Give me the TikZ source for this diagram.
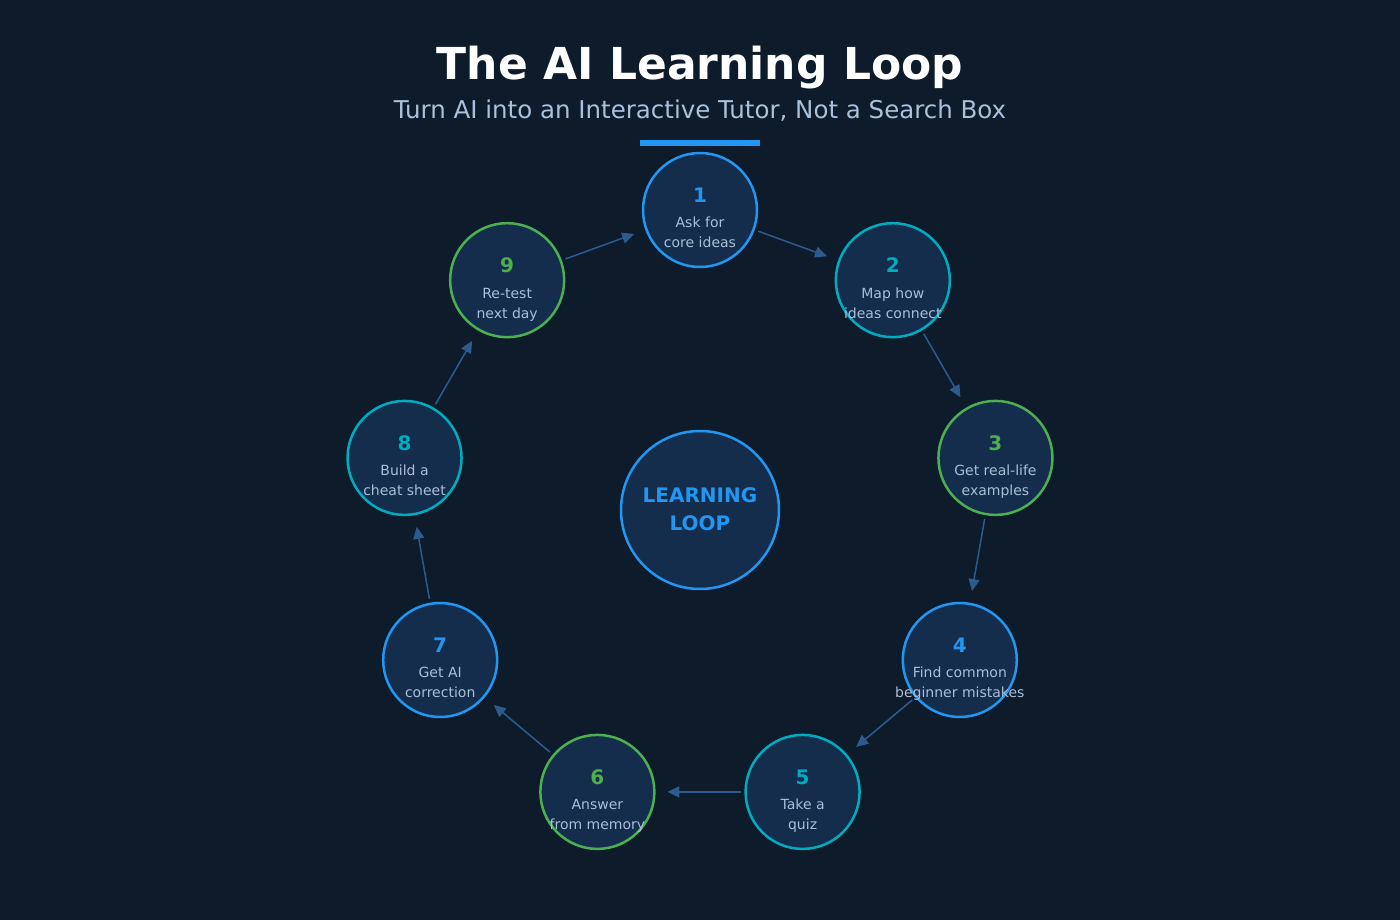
\documentclass[tikz,border=0pt]{standalone}
\usepackage{fontspec}
\setmainfont{DejaVu Sans}
\usetikzlibrary{arrows.meta}
\usetikzlibrary{positioning}
\definecolor{bgcolor}{HTML}{0D1B2A}
\definecolor{fillcolor}{HTML}{142D4C}
\definecolor{loopblue}{HTML}{2196F3}
\definecolor{loopcyan}{HTML}{00ACC1}
\definecolor{loopgreen}{HTML}{4CAF50}
\definecolor{labelcolor}{HTML}{A9BFD8}
\definecolor{subcolor}{HTML}{A9C1DC}
\definecolor{arrowcolor}{HTML}{2D5B8E}
\newcommand\steplist{loopblue/Ask for/core ideas,
  loopcyan/Map how/ideas connect,
  loopgreen/Get real-life/examples,
  loopblue/Find common/beginner mistakes,
  loopcyan/Take a/quiz,
  loopgreen/Answer/from memory,
  loopblue/Get AI/correction,
  loopcyan/Build a/cheat sheet,
  loopgreen/Re-test/next day}
\tikzset{
  stepcircle/.style={circle,draw=#1,fill=fillcolor,line width=2.5pt,
    minimum size=114pt,inner sep=0pt},
  stepnum/.style={text=#1,font=\fontsize{20}{24}\selectfont\bfseries},
  steptext/.style={text=labelcolor,align=center,
    font=\fontsize{14}{20}\selectfont},
  looparrow/.style={arrowcolor,line width=1.5pt,
    -{Triangle[length=12pt,width=11pt]},
    shorten <=3.75pt,shorten >=11.75pt}
}

\begin{document}
\begin{tikzpicture}[x=1pt,y=1pt]
  %
  \fill[bgcolor] (-700,510) rectangle (700,-410);
  \useasboundingbox (-700,510) rectangle (700,-410);

  \node[text=white,font=\fontsize{44}{52}\selectfont\bfseries]
    (title) at (0,442) {The AI Learning Loop};
  \node[text=subcolor,font=\fontsize{24.5}{28}\selectfont]
    (subtitle) at (0,399) {Turn AI into an Interactive Tutor, Not a Search Box};
  \node[fill=loopblue,minimum width=120pt,minimum height=6pt,inner sep=0pt]
    (bar) at (0,367) {};

  \node[stepcircle=loopblue,minimum size=158pt] (hub) at (0,0) {};
  \node[text=loopblue,align=center,font=\fontsize{20}{28}\selectfont\bfseries]
    (hubtext) at ([yshift=1pt]hub.center) {LEARNING\\LOOP};

  \foreach \col/\upper/\lower [count=\i] in \steplist {
    \pgfmathsetmacro\ang{130-40*\i}
    \node[stepcircle=\col] (step\i) at (\ang:300) {};
    \node[stepnum=\col] (num\i) at ([yshift=15pt]step\i.center) {\i};
    \node[steptext] (text\i) at ([yshift=-24pt]step\i.center)
      {\strut\upper\\\strut\lower};
  }

  \foreach \i [remember=\i as \j (initially 9)] in {1,...,9} {
    \draw[looparrow] (step\j) -- (step\i);
  }

\end{tikzpicture}
\end{document}
